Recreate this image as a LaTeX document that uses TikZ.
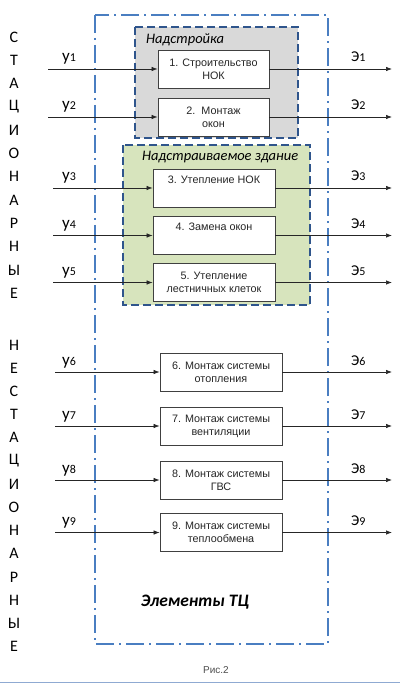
\documentclass[tikz,border=0pt]{standalone}
\usepackage{fontspec}
\setmainfont{Liberation Sans}
\newfontfamily\calfont{Carlito}
\usetikzlibrary{arrows.meta}
\definecolor{frameblue}{RGB}{74,126,193}
\definecolor{navy}{RGB}{47,85,140}
\definecolor{grayfill}{RGB}{217,217,217}
\definecolor{greenfill}{RGB}{215,228,189}
\definecolor{rule}{RGB}{143,170,210}
\begin{document}
\begin{tikzpicture}[x=1pt,y=-1pt,
  blk/.style={draw=black!75, fill=white, line width=0.8pt, minimum height=38pt, align=center,
    font=\fontsize{10.8}{13}\selectfont, inner sep=1pt, text=black!85},
  arr/.style={-{Latex[length=6pt,width=4.5pt]}, line width=0.7pt, black!85},
  grp/.style={draw=navy, line width=2pt, dash pattern=on 8pt off 4pt},
  letter/.style={font=\calfont\fontsize{16}{16}\selectfont, inner sep=0pt},
  ylab/.style={anchor=base west, inner sep=0pt, font=\calfont\fontsize{17}{17}\selectfont},
  elab/.style={anchor=base west, inner sep=0pt, font=\calfont\fontsize{15}{15}\selectfont}
]
\useasboundingbox (0,0) rectangle (400,684);
% group boxes
\draw[grp, fill=grayfill] (135,27) rectangle (298,138);
\draw[grp, fill=greenfill] (123,145) rectangle (310,305);
\node[anchor=west, inner sep=0pt, font=\calfont\itshape\fontsize{14.5}{14.5}\selectfont] (t1) at (146,40) {Надстройка};
\node[anchor=west, inner sep=0pt, font=\calfont\itshape\fontsize{14.5}{14.5}\selectfont] (t2) at (142,157) {Надстраиваемое здание};
% outer frame
\draw[frameblue, line width=2pt, dash pattern=on 18pt off 5pt on 2pt off 5pt] (95,15) rectangle (328,644);
% boxes
\node[blk, minimum width=111pt] (b1) at (213.5,69) {1. Строительство\\НОК};
\node[blk, minimum width=111pt] (b2) at (213.5,117) {2.\ \ Монтаж\\окон};
\node[blk, minimum width=122pt] (b3) at (214,188) {3. Утепление НОК\\\strut};
\node[blk, minimum width=122pt] (b4) at (214,235.5) {4. Замена окон\\\strut};
\node[blk, minimum width=122pt] (b5) at (214,282.5) {5. Утепление\\лестничных клеток};
\node[blk, minimum width=122pt] (b6) at (221,372) {6. Монтаж системы\\отопления};
\node[blk, minimum width=122pt] (b7) at (221,426) {7. Монтаж системы\\вентиляции};
\node[blk, minimum width=122pt] (b8) at (221,480) {8. Монтаж системы\\ГВС};
\node[blk, minimum width=122pt] (b9) at (221,532.5) {9. Монтаж системы\\теплообмена};
% arrows
\foreach \i/\x/\y in {1/48/69, 2/48/117, 3/53/188, 4/53/235.5, 5/53/282.5, 6/55/372, 7/55/426, 8/55/480, 9/55/532.5}{
  \coordinate (in\i) at (\x,\y);
  \coordinate (out\i) at (392,\y);
  \draw[arr] (in\i) -- (b\i);
  \draw[arr] (b\i) -- (out\i);
  \node[ylab] (yl\i) at (62,\y-7) {у\fontsize{12}{12}\selectfont\i};
  \node[elab] (el\i) at (351,\y-7) {Э\fontsize{12}{12}\selectfont\i};
}
% vertical letters
\foreach \c [count=\k from 0] in {С,Т,А,Ц,И,О,Н,А,Р,Н,Ы,Е}{
  \node[letter] (la\k) at (14,37+23.3*\k) {\c};
}
\foreach \c [count=\k from 0] in {Н,Е,С,Т,А,Ц,И,О,Н,А,Р,Н,Ы,Е}{
  \node[letter] (lb\k) at (14,345+23.2*\k) {\c};
}
\node[inner sep=0pt, font=\calfont\bfseries\itshape\fontsize{17.5}{17.5}\selectfont] (el) at (195,602) {Элементы ТЦ};
\node[inner sep=0pt, font=\fontsize{10}{10}\selectfont, text=black!70] (fig) at (216,670) {Рис.2};
\coordinate (r1) at (0,682.5);
\coordinate (r2) at (400,682.5);
\draw[rule, line width=1.5pt] (r1) -- (r2);
\end{tikzpicture}
\end{document}
